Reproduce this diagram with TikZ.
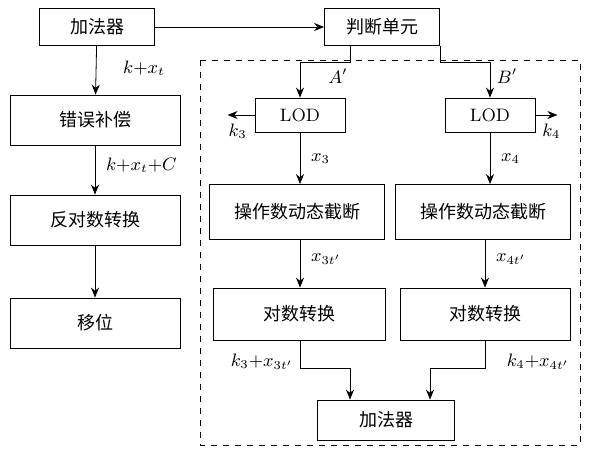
\documentclass[tikz,border=0pt]{standalone}
\usepackage{fontspec}
\newfontfamily\cjk{Noto Sans CJK SC}
\usetikzlibrary{calc,arrows.meta,positioning}

\begin{document}
\begin{tikzpicture}[x=0.5pt,y=-0.5pt, >={Stealth[length=5pt,width=4pt]},
    box/.style={draw, font=\cjk\fontsize{9}{10}\selectfont, inner sep=0pt},
    lab/.style={font=\small}]
    \useasboundingbox (0,0) rectangle (600,450);

    \node[box,minimum width=57.5pt,minimum height=18.5pt] (Add) at (97,27) {加法器};
    \node[box,minimum width=57.5pt,minimum height=18.5pt] (Judge) at (382,27) {判断单元};
    \node[box,minimum width=85pt,minimum height=25pt] (Err) at (95,120) {错误补偿};
    \node[box,minimum width=85pt,minimum height=25pt] (Inv) at (95,220) {反对数转换};
    \node[box,minimum width=85pt,minimum height=25pt] (Shift) at (95,323) {移位};
    \node[box,minimum width=45pt,minimum height=17pt,font=\small] (LodA) at (300,115) {LOD};
    \node[box,minimum width=45pt,minimum height=17pt,font=\small] (LodB) at (490,115) {LOD};
    \node[box,minimum width=87.5pt,minimum height=27.5pt] (CutA) at (297,212) {操作数动态截断};
    \node[box,minimum width=87.5pt,minimum height=27.5pt] (CutB) at (483,212) {操作数动态截断};
    \node[box,minimum width=86pt,minimum height=26pt] (LogA) at (299,314) {对数转换};
    \node[box,minimum width=85pt,minimum height=26pt] (LogB) at (485,314) {对数转换};
    \node[box,minimum width=68.5pt,minimum height=20pt] (Sum) at (386,420) {加法器};

    \draw[dashed] (200,60) rectangle (580,445);

    \draw[->] (Add) -- (Judge);
    \draw[->] (Add) -- (Err) node[lab,pos=0.45,right=10pt] {$k{+}x_t$};
    \draw[->] (Err) -- (Inv) node[lab,pos=0.4,right=2pt] {$k{+}x_t{+}C$};
    \draw[->] (Inv) -- (Shift);

    \draw[->] (Judge.south -| 350,0) |- (300,62) -- (LodA.north);
    \draw[->] (Judge.south -| 440,0) |- (490,62) -- (LodB.north);
    \node[lab] at (338,76) {$A'$};
    \node[lab] at (507,76) {$B'$};

    \draw[->] (LodA.west) -- ++(-27,0) node[lab,below right=1pt and -3pt] {$k_3$};
    \draw[->] (LodB.east) -- ++(22,0) node[lab,below left=1pt and -5pt] {$k_4$};
    \draw[->] (LodA) -- (LodA |- CutA.north) node[lab,pos=0.5,right=2pt] {$x_3$};
    \draw[->] (LodB) -- (LodB |- CutB.north) node[lab,pos=0.5,right=2pt] {$x_4$};
    \draw[->] (CutA.south -| 300,0) -- (LogA.north -| 300,0) node[lab,pos=0.4,right=2pt] {$x_{3t'}$};
    \draw[->] (CutB.south -| 485,0) -- (LogB.north -| 485,0) node[lab,pos=0.4,right=2pt] {$x_{4t'}$};

    \draw[->] (LogA.south -| 300,0) |- (350,368) -- (Sum.north -| 350,0);
    \draw[->] (LogB.south -| 485,0) |- (430,368) -- (Sum.north -| 430,0);
    \node[lab] at (262,362) {$k_3{+}x_{3t'}$};
    \node[lab] at (538,362) {$k_4{+}x_{4t'}$};
\end{tikzpicture}
\end{document}
